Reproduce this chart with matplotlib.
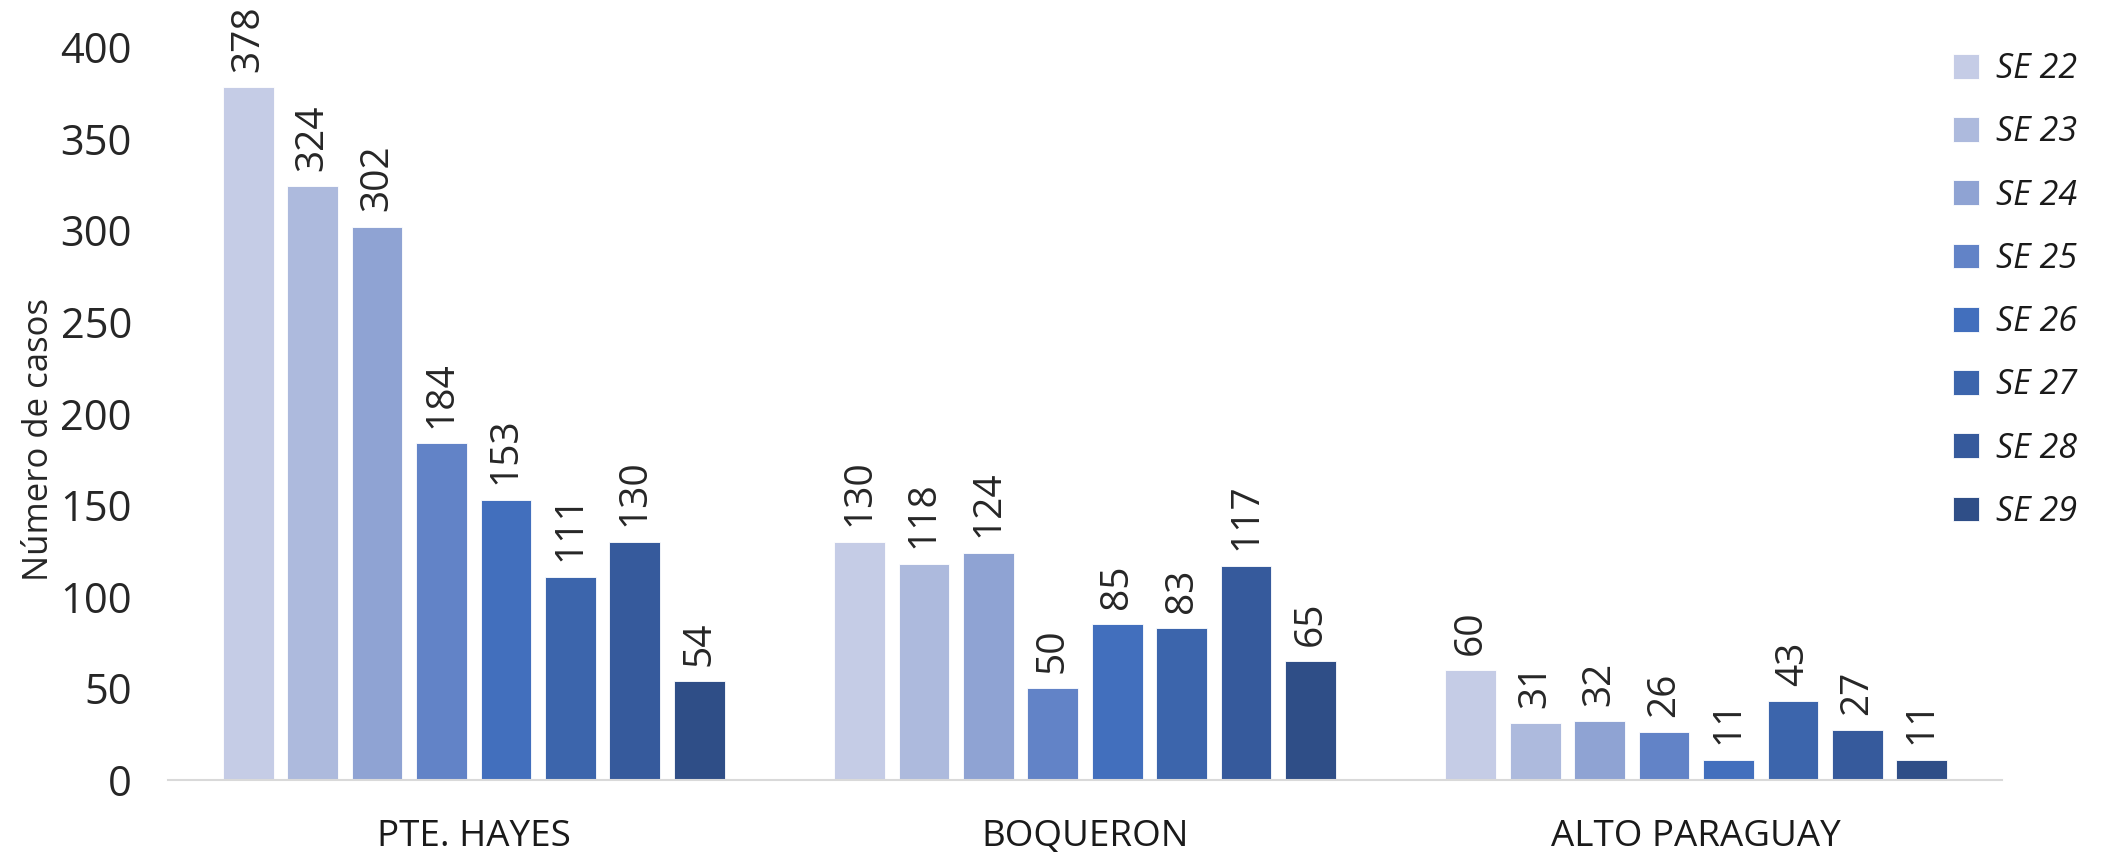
import matplotlib
matplotlib.use("Agg")
import matplotlib.pyplot as plt
import numpy as np

plt.rcParams['font.family'] = ['Open Sans', 'DejaVu Sans']

departamentos = ["PTE. HAYES", "BOQUERON", "ALTO PARAGUAY"]
semanas = ["SE 22", "SE 23", "SE 24", "SE 25", "SE 26", "SE 27", "SE 28", "SE 29"]
casos = [
    [378, 130, 60],   # SE 22
    [324, 118, 31],   # SE 23
    [302, 124, 32],   # SE 24
    [184, 50, 26],    # SE 25
    [153, 85, 11],    # SE 26
    [111, 83, 43],    # SE 27
    [130, 117, 27],   # SE 28
    [54, 65, 11],     # SE 29
]
colores = ["#C5CCE6", "#ADBADD", "#8FA3D3", "#6283C7",
           "#426FBD", "#3C65AC", "#365A9C", "#2F4E87"]

fig = plt.figure(figsize=(21.08, 8.57), dpi=100, facecolor='white')
ax = fig.add_axes([0.0797, 0.09, 0.870, 0.855])

x = np.arange(len(departamentos))
step = 0.1054
width = 0.083
n = len(semanas)

for i, (sem, vals) in enumerate(zip(semanas, casos)):
    pos = x + (i - (n - 1) / 2) * step
    bars = ax.bar(pos, vals, width=width, color=colores[i], label=sem,
                  edgecolor='white', linewidth=0.6)
    ax.bar_label(bars, padding=11, rotation=90, fontsize=28, color='#262626',
                 clip_on=False)

ax.set_xlim(-0.5, 2.5)
ax.set_ylim(0, 400)
ax.set_yticks(np.arange(0, 401, 50))
ax.set_xticks(x)
ax.set_xticklabels(departamentos, fontsize=26.5, color='#1a1a1a')
ax.tick_params(axis='y', labelsize=30, colors='#262626', length=0, pad=26)
ax.tick_params(axis='x', length=0, pad=28)
ax.set_ylabel("Número de casos", fontsize=25, color='#262626')
ax.yaxis.set_label_coords(-0.061, 0.464)

for side in ['top', 'right', 'left']:
    ax.spines[side].set_visible(False)
ax.spines['bottom'].set_color('#D9D9D9')
ax.spines['bottom'].set_linewidth(1.5)

leg = fig.legend(loc='upper left', bbox_to_anchor=(0.912, 0.975), frameon=False,
                 handlelength=0.75, handleheight=0.75, handletextpad=0.5,
                 labelspacing=0.86, prop={'size': 24.5, 'style': 'italic'})
for t in leg.get_texts():
    t.set_color('#1a1a1a')

fig.savefig("out.png", dpi=100, facecolor='white')
